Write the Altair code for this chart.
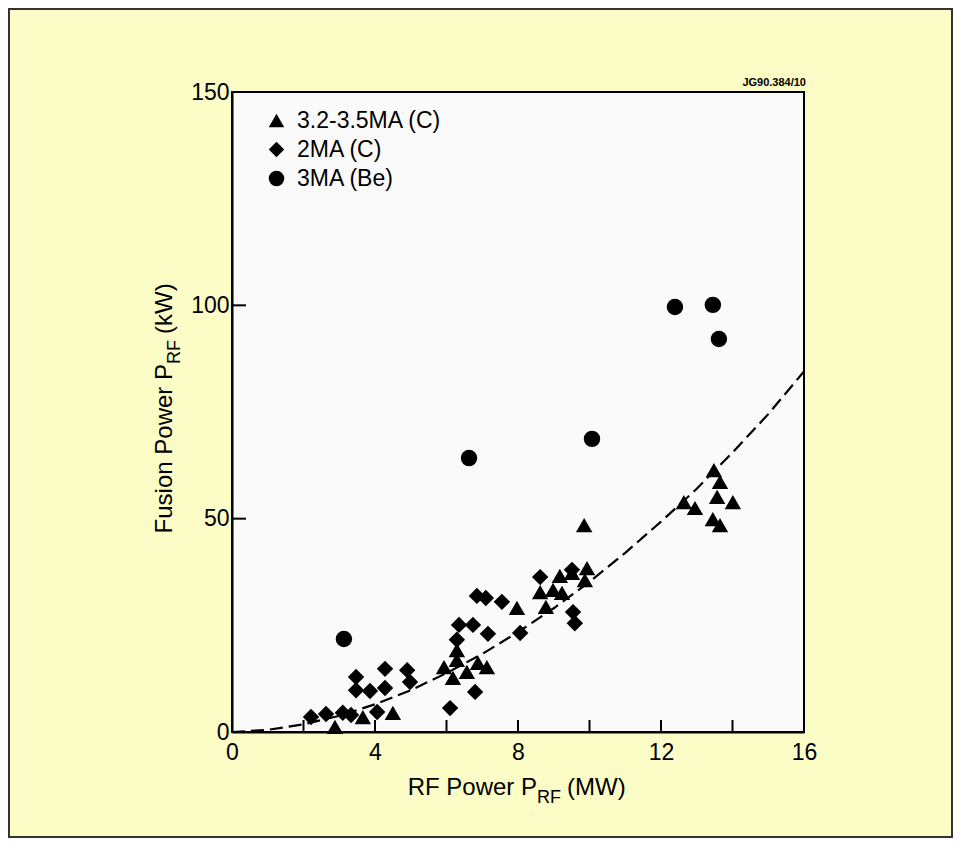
import altair as alt
import pandas as pd

# ---------------- data ----------------
series_names = ["3.2-3.5MA (C)", "2MA (C)", "3MA (Be)"]

tri_x = [2.88, 3.66, 4.50, 5.93, 6.18, 6.29, 6.29, 6.57, 6.88, 7.13, 7.97, 8.62, 8.78,
         8.98, 9.23, 9.17, 9.51, 9.87, 9.93, 9.85, 12.64, 12.95, 13.45, 13.48, 13.57,
         13.65, 13.65, 14.01]
tri_y = [1.2, 3.5, 4.5, 15.2, 12.7, 19.2, 16.9, 14.1, 16.2, 15.2, 29.1, 32.8, 29.3,
         33.3, 32.6, 36.6, 37.3, 35.6, 38.4, 48.5, 53.9, 52.5, 49.9, 61.4, 55.1,
         58.6, 48.5, 53.9]

dia_x = [2.21, 2.63, 3.10, 3.33, 3.47, 3.47, 3.86, 4.06, 4.28, 4.28, 4.90, 4.98, 6.10,
         6.29, 6.35, 6.74, 6.80, 6.85, 7.10, 7.16, 7.55, 8.06, 8.62, 9.51, 9.54, 9.59]
dia_y = [3.5, 4.2, 4.5, 4.0, 12.9, 9.8, 9.6, 4.7, 14.8, 10.3, 14.5, 11.7, 5.6,
         21.6, 25.1, 25.1, 9.4, 31.9, 31.4, 23.0, 30.5, 23.2, 36.3, 38.0, 28.1, 25.5]

be_x = [3.13, 6.63, 10.07, 12.39, 13.45, 13.62]
be_y = [21.8, 64.2, 68.7, 99.6, 100.1, 92.1]

curve_x = [0, 1, 2, 3, 4, 5, 6, 7, 8, 9, 10, 11, 12, 13, 14, 15, 16]
curve_y = [0, 0.5, 1.8, 3.8, 6.5, 9.8, 13.8, 18.3, 23.4, 29.0, 35.2, 42.0, 49.3,
           57.0, 65.5, 74.5, 84.5]

x_label_vals = [0, 4, 8, 12, 16]
y_label_vals = [0, 50, 100, 150]
x_tick_vals = [2, 4, 6, 8, 10, 12, 14]
y_tick_vals = [50, 100]

# ---------------- tables ----------------
pts = pd.DataFrame({
    "x": tri_x + dia_x + be_x,
    "y": tri_y + dia_y + be_y,
    "series": [series_names[0]] * len(tri_x) + [series_names[1]] * len(dia_x)
              + [series_names[2]] * len(be_x),
})
curve = pd.DataFrame({"x": curve_x, "y": curve_y})
xt = pd.DataFrame({"v": x_tick_vals})
yt = pd.DataFrame({"v": y_tick_vals})
one = pd.DataFrame({"a": [0]})

W, H = 572, 640
PL, PT, PR, PB = 224, 84, 149, 106
FONT = "Liberation Sans"
xs = alt.Scale(domain=[0, 16], nice=False, zero=False)
ys = alt.Scale(domain=[0, 150], nice=False, zero=False)

xaxis = alt.Axis(values=x_label_vals, ticks=False, tickSize=0, labelFontSize=23,
                 labelPadding=9, title=None, grid=False, labelFlush=False)
yaxis = alt.Axis(values=y_label_vals, ticks=False, tickSize=0, labelFontSize=23,
                 labelPadding=3, title=None, grid=False, labelFlush=False)

frame = alt.Chart(one).mark_rect(fill="transparent", stroke="#333333", strokeWidth=2).encode(
    x=alt.value(-PL + 1), x2=alt.value(W + PR - 1),
    y=alt.value(-PT + 1), y2=alt.value(H + PB - 1))

line = alt.Chart(curve).mark_line(color="black", strokeWidth=2.2, strokeDash=[13, 6]).encode(
    x=alt.X("x:Q", scale=xs, axis=xaxis),
    y=alt.Y("y:Q", scale=ys, axis=yaxis),
)

points = alt.Chart(pts).mark_point(filled=True, color="black", opacity=1, size=270,
                                   strokeWidth=0).encode(
    x=alt.X("x:Q", scale=xs),
    y=alt.Y("y:Q", scale=ys),
    shape=alt.Shape("series:N",
                    scale=alt.Scale(domain=series_names,
                                    range=["triangle-up", "diamond", "circle"]),
                    legend=alt.Legend(orient="none", legendX=33, legendY=17, title=None,
                                      labelFontSize=23, labelFont=FONT, labelColor="black",
                                      symbolSize=240, symbolFillColor="black",
                                      symbolStrokeColor="black", symbolStrokeWidth=0,
                                      symbolOpacity=1,
                                      rowPadding=5, labelOffset=9, padding=0)),
)

xticks = alt.Chart(xt).mark_rule(color="black", strokeWidth=2).encode(
    x=alt.X("v:Q", scale=xs), y=alt.value(H), y2=alt.value(H - 12))
yticks = alt.Chart(yt).mark_rule(color="black", strokeWidth=2).encode(
    y=alt.Y("v:Q", scale=ys), x=alt.value(0), x2=alt.value(14))


def txt(s, x, y, size=24, align="left", angle=0, weight="normal", baseline="alphabetic"):
    kw = dict(text=s, fontSize=size, font=FONT, color="black", align=align,
              baseline=baseline, fontWeight=weight)
    if angle:
        kw["angle"] = angle
    return alt.Chart(one).mark_text(**kw).encode(x=alt.value(x), y=alt.value(y))


# x title: "RF Power P_RF (MW)"
xa = 305
xb = 703
xt1 = txt("RF Power P", xa, xb, align="right")
xt2 = txt("RF", xa, xb + 8, size=18)
xt3 = txt("(MW)", xa + 30, xb)

# y title: "Fusion Power P_RF (kW)" (rotated)
ya = 272
yx = -60
yt1 = txt("Fusion Power P", yx, ya, align="right", angle=270)
yt2 = txt("RF", yx + 8, ya, size=18, angle=270)
yt3 = txt("(kW)", yx, ya - 30, angle=270)

code = txt("JG90.384/10", W + 2, -6, size=11, align="right", weight="bold")

chart = alt.layer(frame, line, xticks, yticks, points, xt1, xt2, xt3, yt1, yt2, yt3,
                  code).properties(
    width=W, height=H,
    autosize=alt.AutoSizeParams(type="none"),
    padding={"left": PL, "top": PT, "right": PR, "bottom": PB},
    background="#fbfcc6",
).configure_view(
    fill="#fafafa", stroke="black", strokeWidth=2
).configure_axis(
    domainColor="black", domainWidth=2, labelColor="black", labelFont=FONT
)

chart.save("out.html", embed_options={"renderer": "svg", "actions": False})
